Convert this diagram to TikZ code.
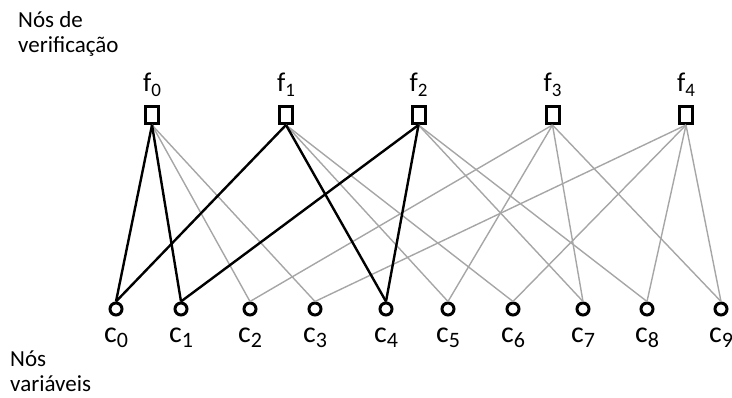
\documentclass[tikz,border=0pt]{standalone}
\usepackage{fontspec}
\setmainfont{Carlito}
\usepackage{xcolor}
\definecolor{softedge}{HTML}{A6A6A6}

\newcommand{\flbl}[1]{{\fontsize{27}{27}\selectfont f\raisebox{-5pt}{\fontsize{19}{19}\selectfont #1}}}
\newcommand{\clbl}[1]{{\fontsize{30}{30}\selectfont c\raisebox{-5pt}{\fontsize{22}{22}\selectfont #1}}}

\begin{document}
\begin{tikzpicture}[x=1pt, y=-1pt,
  chk/.style={rectangle, draw, line width=3pt, minimum width=13pt, minimum height=17pt, inner sep=0pt},
  var/.style={circle, draw, line width=3pt, minimum size=12pt, inner sep=0pt},
  lbl/.style={inner sep=0pt, anchor=base},
  side/.style={inner sep=0pt, anchor=base west, align=left, font=\fontsize{23}{25}\selectfont},
  edge/.style={line width=1.4pt, draw=softedge},
  hot/.style={line width=2.4pt, draw=black}
]
\useasboundingbox (0,0) rectangle (732,398);
\node[side] (tlbl) at (18,53) {Nós de\\verificação};
\node[side] (blbl) at (10,392) {Nós\\variáveis};
\node[chk] (f0) at (152,115) {};
\node[chk] (f1) at (286,115) {};
\node[chk] (f2) at (418.5,115) {};
\node[chk] (f3) at (552.5,115) {};
\node[chk] (f4) at (686,115) {};
\node[lbl] (f0l) at (152,92) {\flbl{0}};
\node[lbl] (f1l) at (286,92) {\flbl{1}};
\node[lbl] (f2l) at (418.5,92) {\flbl{2}};
\node[lbl] (f3l) at (552.5,92) {\flbl{3}};
\node[lbl] (f4l) at (686,92) {\flbl{4}};
\node[var] (c0) at (116,309) {};
\node[var] (c1) at (181,309) {};
\node[var] (c2) at (250,309) {};
\node[var] (c3) at (315,309) {};
\node[var] (c4) at (386,309) {};
\node[var] (c5) at (448,309) {};
\node[var] (c6) at (513,309) {};
\node[var] (c7) at (583,309) {};
\node[var] (c8) at (647,309) {};
\node[var] (c9) at (721,309) {};
\node[lbl] (c0l) at (116,343) {\clbl{0}};
\node[lbl] (c1l) at (181,343) {\clbl{1}};
\node[lbl] (c2l) at (250,343) {\clbl{2}};
\node[lbl] (c3l) at (315,343) {\clbl{3}};
\node[lbl] (c4l) at (386,343) {\clbl{4}};
\node[lbl] (c5l) at (448,343) {\clbl{5}};
\node[lbl] (c6l) at (513,343) {\clbl{6}};
\node[lbl] (c7l) at (583,343) {\clbl{7}};
\node[lbl] (c8l) at (647,343) {\clbl{8}};
\node[lbl] (c9l) at (721,343) {\clbl{9}};
\draw[edge] (f0.south) -- (c2.north);
\draw[edge] (f0.south) -- (c3.north);
\draw[edge] (f1.south) -- (c5.north);
\draw[edge] (f1.south) -- (c6.north);
\draw[edge] (f2.south) -- (c7.north);
\draw[edge] (f2.south) -- (c8.north);
\draw[edge] (f3.south) -- (c2.north);
\draw[edge] (f3.south) -- (c5.north);
\draw[edge] (f3.south) -- (c7.north);
\draw[edge] (f3.south) -- (c9.north);
\draw[edge] (f4.south) -- (c3.north);
\draw[edge] (f4.south) -- (c6.north);
\draw[edge] (f4.south) -- (c8.north);
\draw[edge] (f4.south) -- (c9.north);
\draw[hot] (f0.south) -- (c0.north);
\draw[hot] (f0.south) -- (c1.north);
\draw[hot] (f1.south) -- (c0.north);
\draw[hot] (f1.south) -- (c4.north);
\draw[hot] (f2.south) -- (c1.north);
\draw[hot] (f2.south) -- (c4.north);
\end{tikzpicture}
\end{document}
